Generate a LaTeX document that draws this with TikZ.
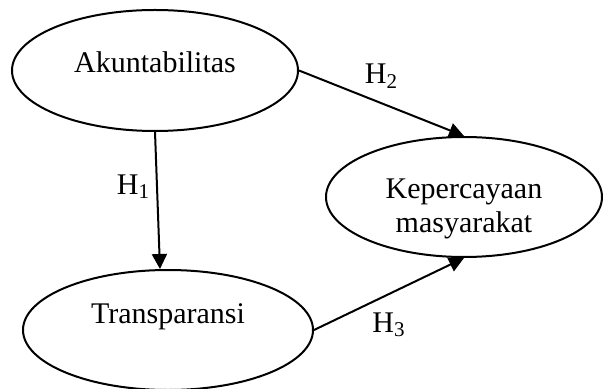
\documentclass[tikz,border=0pt]{standalone}
\usepackage{fontspec}
\setmainfont{Liberation Serif}
\usetikzlibrary{arrows.meta,shapes.geometric}
\tikzset{
  ellbox/.style={draw, ellipse, line width=1pt, inner sep=0pt, align=center},
  arrow/.style={-{Triangle[length=7.5pt,width=7.5pt]}, line width=1pt},
  hlabel/.style={inner sep=2pt},
}

\begin{document}
\begin{tikzpicture}[x=0.5pt, y=-0.5pt, font=\fontsize{15}{17}\selectfont]
  \useasboundingbox (0,0) rectangle (603,389);

  \node[ellbox, minimum width=143pt, minimum height=60.5pt,
        text height=10pt, text depth=8.1pt]  (A) at (155,70.5) {Akuntabilitas};
  \node[ellbox, minimum width=138pt, minimum height=60pt,
        text height=36pt, text depth=0pt]    (K) at (464,197)  {Kepercayaan\\masyarakat};
  \node[ellbox, minimum width=145pt, minimum height=60pt,
        text height=10pt, text depth=16.6pt] (T) at (168,330)  {Transparansi};

  \draw[arrow] (A.south) -- node[hlabel, pos=0.4, left=1pt] (h1) {H\textsubscript{1}} ([xshift=-4pt]T.north);
  \draw[arrow] (A.east) -- node[hlabel, pos=0.5, above=5pt] (h2) {H\textsubscript{2}} (K.north);
  \draw[arrow] (T.east) -- node[hlabel, pos=0.5, below=7pt] (h3) {H\textsubscript{3}} (K.south);
\end{tikzpicture}
\end{document}
